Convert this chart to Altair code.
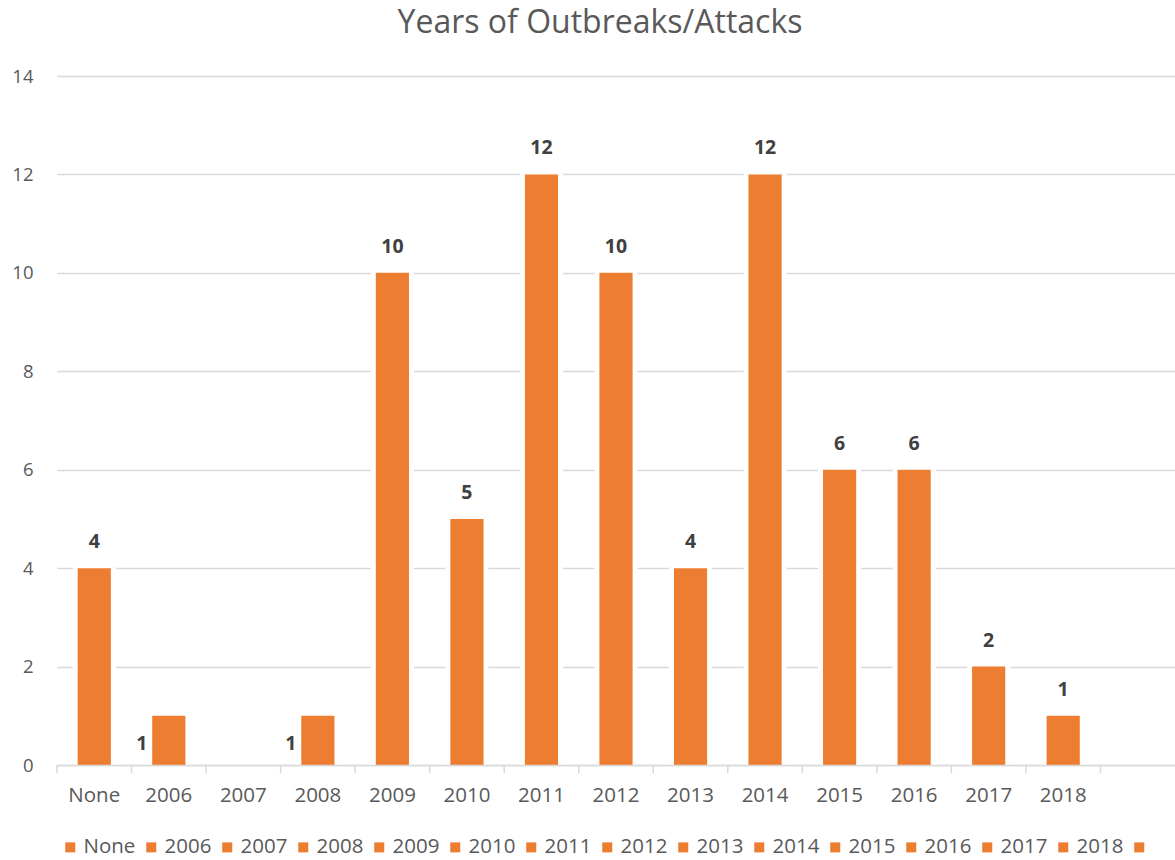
import altair as alt
import pandas as pd

# ---- data ----
categories = ["None", "2006", "2007", "2008", "2009", "2010", "2011", "2012",
              "2013", "2014", "2015", "2016", "2017", "2018", ""]
counts = [4, 1, 0, 1, 10, 5, 12, 10, 4, 12, 6, 6, 2, 1, 0]
side_label_categories = ["2006", "2008"]
y_ticks = [0, 2, 4, 6, 8, 10, 12, 14]

df = pd.DataFrame({"category": categories, "count": counts})
df["side"] = df["category"].isin(side_label_categories)
df["zero"] = 0

W, H = 1118, 689
ORANGE = "#ED7D31"
GREY = "#D9D9D9"
TXT = "#595959"
FONT = "Open Sans"

x = alt.X(
    "category:N",
    sort=categories,
    scale=alt.Scale(domain=categories, paddingInner=0, paddingOuter=0),
    axis=alt.Axis(title=None, labelAngle=0, ticks=False, domainColor=GREY,
                  domainWidth=1.5, labelFont=FONT, labelFontSize=20.5,
                  labelColor=TXT, labelPadding=20, grid=False, zindex=1),
)
y = alt.Y(
    "count:Q",
    scale=alt.Scale(domain=[0, 14], nice=False),
    axis=alt.Axis(title=None, values=y_ticks, domain=False, ticks=False,
                  gridColor=GREY, gridWidth=1.3, labelFont=FONT,
                  labelFontSize=18.5, labelColor=TXT, labelPadding=24),
)

base = alt.Chart(df)

bars_bg = base.transform_filter("datum.count > 0").mark_bar(
    width=alt.RelativeBandSize(0.55), color="white", stroke="white", strokeWidth=2
).encode(x=x, y=y)

bars = base.transform_filter("datum.count > 0").mark_bar(
    width=alt.RelativeBandSize(0.445)
).encode(
    x=x, y=y,
    color=alt.Color(
        "category:N",
        scale=alt.Scale(domain=categories, range=[ORANGE] * len(categories)),
        legend=alt.Legend(
            orient="none", legendX=3, legendY=761, direction="horizontal",
            columns=len(categories), title=None, symbolType="square",
            symbolSize=100, symbolStrokeWidth=0, symbolOpacity=1,
            labelFont=FONT, labelFontSize=20.5, labelColor=TXT,
            labelOffset=3, columnPadding=5,
        ),
    ),
)

tick_marks = base.mark_rule(color=GREY, strokeWidth=1.5).encode(
    x=alt.X("category:N", sort=categories, bandPosition=0),
    y=alt.value(H), y2=alt.value(H + 8),
)

top_labels = base.transform_filter("datum.count > 0 && !datum.side").mark_text(
    font=FONT, fontWeight="bold", fontSize=19.5, color="#404040",
    baseline="alphabetic", dy=-20,
).encode(x=x, y=y, text="count:Q")

side_labels = base.transform_filter("datum.count > 0 && datum.side").mark_text(
    font=FONT, fontWeight="bold", fontSize=19.5, color="#404040",
    baseline="alphabetic", dx=-27, dy=-15,
).encode(x=x, y=alt.Y("zero:Q"), text="count:Q")

chart = alt.layer(bars_bg, bars, tick_marks, top_labels, side_labels).properties(
    width=W, height=H,
    title=alt.TitleParams(
        "Years of Outbreaks/Attacks", font=FONT, fontSize=32, fontWeight="normal",
        color=TXT, anchor="middle", frame="group", dx=-16,
        baseline="alphabetic", offset=2,
    ),
    padding={"left": 57, "top": 76, "right": 0, "bottom": 95},
    autosize="none",
).configure_view(stroke=None)

chart.save("out.html", embed_options={"renderer": "svg", "actions": False})
